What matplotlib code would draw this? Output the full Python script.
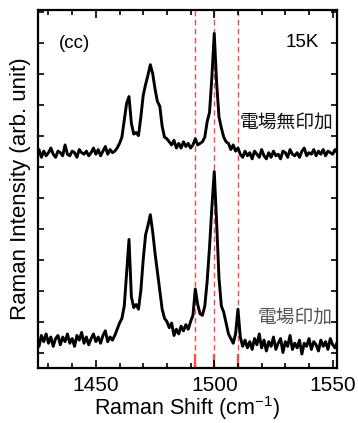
import numpy as np
import matplotlib
matplotlib.use('Agg')
import matplotlib.pyplot as plt
from matplotlib.ticker import MultipleLocator, NullFormatter

plt.rcParams['font.family'] = ['Liberation Sans', 'Noto Sans CJK JP', 'DejaVu Sans']
plt.rcParams['mathtext.fontset'] = 'custom'
plt.rcParams['mathtext.rm'] = 'Liberation Sans'
plt.rcParams['mathtext.it'] = 'Liberation Sans'

# Raman shift (cm-1), one point per wavenumber
shift = np.arange(1425, 1553)

# upper trace: no field applied
no_field = [
    7.40, 7.55, 7.30, 7.50, 7.35, 7.45, 7.60, 7.40, 7.30, 7.50,
    7.45, 7.35, 7.70, 7.40, 7.35, 7.50, 7.45, 7.30, 7.55, 7.45,
    7.40, 7.50, 7.35, 7.45, 7.60, 7.40, 7.55, 7.35, 7.50, 7.65,
    7.40, 7.55, 7.45, 7.50, 7.60, 7.75, 7.95, 8.50, 9.05, 9.26,
    8.40, 8.05, 8.10, 8.00, 8.60, 9.30, 9.65, 9.95, 10.29, 10.00,
    9.50, 9.10, 8.95, 8.30, 7.95, 7.90, 7.80, 7.70, 7.85, 7.60,
    7.75, 7.60, 7.80, 7.65, 7.75, 7.60, 7.70, 7.90, 7.70, 7.75,
    7.80, 7.95, 8.45, 8.75, 9.90, 11.30, 9.70, 8.60, 8.25, 7.95,
    7.80, 7.75, 7.55, 7.70, 7.50, 7.60, 7.40, 7.30, 7.50, 7.35,
    7.45, 7.25, 7.50, 7.40, 7.30, 7.55, 7.35, 7.25, 7.45, 7.30,
    7.50, 7.35, 7.40, 7.25, 7.50, 7.45, 7.30, 7.55, 7.40, 7.35,
    7.45, 7.30, 7.50, 7.60, 7.35, 7.45, 7.40, 7.55, 7.35, 7.50,
    7.40, 7.55, 7.35, 7.50, 7.45, 7.40, 7.55, 7.45,
]

# lower trace: field applied
with_field = [
    1.45, 1.20, 1.55, 1.35, 1.60, 1.30, 1.50, 1.20, 1.45, 1.55,
    1.25, 1.50, 1.35, 1.60, 1.30, 1.45, 1.20, 1.55, 1.40, 1.65,
    1.30, 1.50, 1.25, 1.45, 1.60, 1.35, 1.50, 1.30, 1.55, 1.70,
    1.35, 1.50, 1.40, 1.55, 1.75, 1.95, 2.10, 2.50, 3.60, 4.65,
    2.80, 2.45, 2.55, 2.40, 3.00, 4.00, 4.80, 5.10, 5.45, 4.90,
    4.20, 3.60, 3.00, 2.40, 2.10, 2.00, 1.80, 1.95, 1.55, 1.75,
    1.60, 1.85, 1.70, 1.90, 1.75, 2.00, 2.20, 3.05, 2.55, 2.25,
    2.20, 2.50, 3.30, 4.40, 5.70, 6.84, 5.20, 3.40, 2.50, 2.30,
    1.95, 1.60, 1.45, 1.30, 1.60, 2.40, 1.50, 1.20, 1.40, 1.15,
    1.35, 1.10, 1.45, 1.25, 1.60, 1.15, 1.40, 1.05, 1.35, 1.20,
    1.50, 1.10, 1.30, 1.45, 1.00, 1.35, 1.20, 1.55, 1.10, 1.30,
    1.15, 1.40, 0.95, 1.30, 1.20, 1.45, 1.10, 1.35, 1.25, 1.05,
    1.40, 1.20, 1.35, 1.10, 1.45, 1.25, 1.15, 1.35,
]

# marker lines
marks = [1492, 1500, 1510]

fig = plt.figure(figsize=(3.58, 4.23), dpi=100)
ax = fig.add_axes([0.105, 0.130, 0.8355, 0.846])

red = '#ff4a4a'
for m in marks:
    ax.axvline(m, color=red, lw=1.0, ls=(0, (4, 2.5)), zorder=1)
    ax.axvline(m, ymin=0, ymax=0.036, color=red, lw=1.6, zorder=1)

ax.plot(shift, no_field, color='black', lw=2.1, zorder=2)
ax.plot(shift, with_field, color='black', lw=2.1, zorder=2)

ax.set_xlim(1425.4, 1551.7)
ax.set_ylim(0.5, 12.05)

ax.xaxis.set_major_locator(MultipleLocator(50))
ax.xaxis.set_minor_locator(MultipleLocator(10))
ax.yaxis.set_major_locator(MultipleLocator(1))
ax.yaxis.set_major_formatter(NullFormatter())
ax.tick_params(axis='x', which='both', direction='in', top=True, width=1.2,
               labelsize=15, pad=6)
ax.tick_params(axis='x', which='major', length=6)
ax.tick_params(axis='x', which='minor', length=3.5)
ax.tick_params(axis='y', which='major', direction='in', right=True,
               width=1.2, length=4.5)
for s in ax.spines.values():
    s.set_linewidth(1.6)

ax.set_xlabel('Raman Shift (cm$^{-1}$)', fontsize=15.5)
ax.set_ylabel('Raman Intensity (arb. unit)', fontsize=16)
ax.xaxis.set_label_coords(0.5, -0.072)
ax.yaxis.set_label_coords(-0.022, 0.5)

ax.text(0.125, 0.908, '(cc)', transform=ax.transAxes, fontsize=13.5,
        ha='center', va='center')
ax.text(0.884, 0.911, '15K', transform=ax.transAxes, fontsize=13.5,
        ha='center', va='center')
ax.text(0.988, 0.687, '電場無印加', transform=ax.transAxes, fontsize=13.5,
        ha='right', va='center', family=['Noto Sans CJK JP'], color='#111111')
ax.text(0.988, 0.142, '電場印加', transform=ax.transAxes, fontsize=13.5,
        ha='right', va='center', family=['Noto Sans CJK JP'], color='#555555')

fig.savefig('out.png', dpi=100)
